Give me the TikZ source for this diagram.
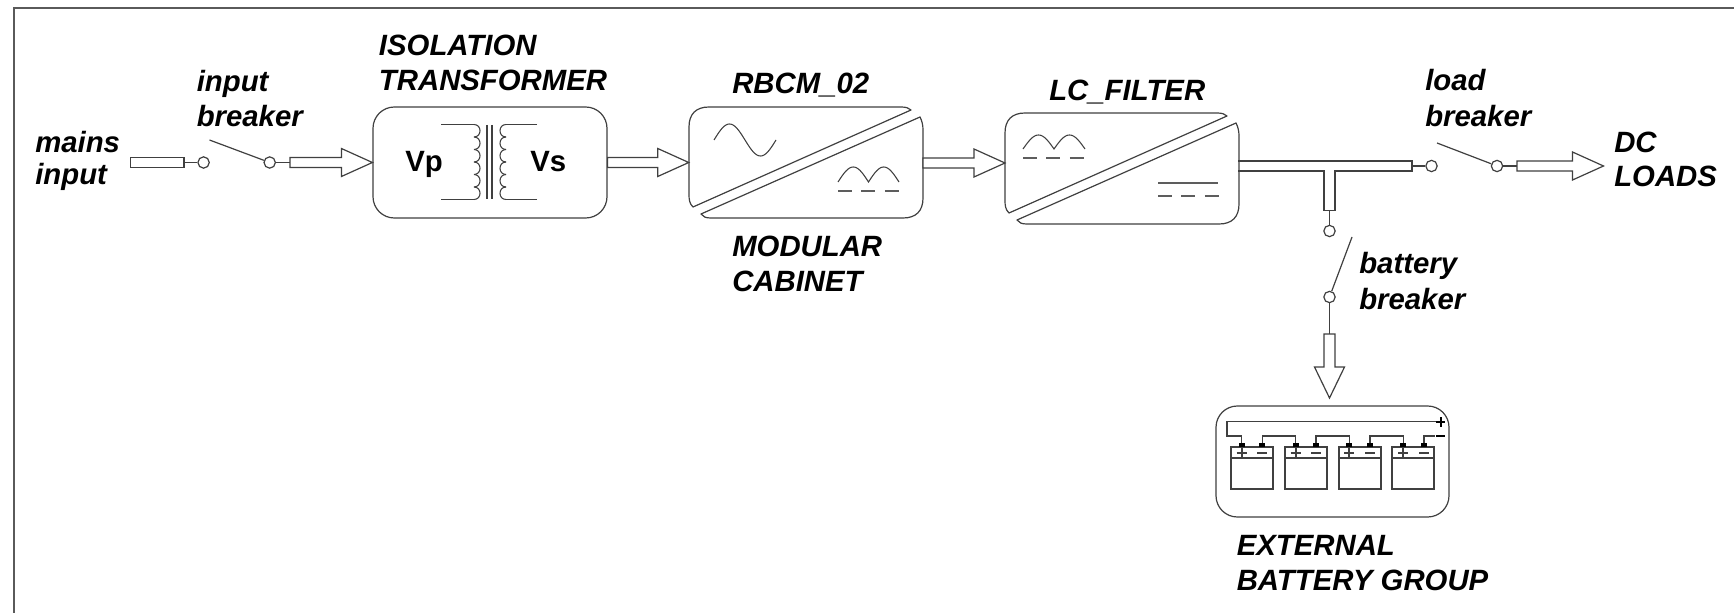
\documentclass[tikz,border=0pt]{standalone}
\usepackage{fontspec}
\setmainfont{Liberation Sans}
\usetikzlibrary{calc}
\definecolor{ink}{HTML}{404040}
\definecolor{framecol}{HTML}{5A5A5A}
\tikzset{
  x=0.75pt,y=-0.75pt,
  wire/.style={draw=ink,line width=0.9pt},
  thin wire/.style={draw=ink,line width=0.8pt},
  lbl/.style={font=\fontsize{22}{26}\selectfont\bfseries\itshape,anchor=base west,inner sep=0pt,text=black},
  vlbl/.style={font=\fontsize{22}{26}\selectfont\bfseries,anchor=base west,inner sep=0pt,text=black},
  contact/.style={circle,draw=ink,line width=0.9pt,fill=white,minimum size=8.5pt,inner sep=0pt},
  ghost/.style={rectangle,inner sep=0pt,minimum width=#1*0.75pt},
  roundbox/.style={rectangle,draw=ink,line width=0.9pt,rounded corners=16pt,inner sep=0pt},
  dashes/.style={draw=ink!85,line width=1.1pt,dash pattern=on 10.5pt off 7.1pt},
  pole/.style={fill=black,draw=none,minimum width=4.5pt,minimum height=3pt,inner sep=0pt,rectangle},
  cell/.style={rectangle,draw=ink,line width=0.9pt,minimum width=31.5pt,minimum height=31.5pt,inner sep=0pt},
  signmark/.style={draw=ink,line width=1.6pt},
}
\newcommand{\hollowright}[2]{\draw[wire,fill=white] ($(#1)+(0,-5)$) -- ($(#2)+(-31,-5)$) -- ($(#2)+(-31,-14)$) -- (#2) -- ($(#2)+(-31,14)$) -- ($(#2)+(-31,5)$) -- ($(#1)+(0,5)$) -- cycle;}
% converter outline: #1 = left x, #2 = top y (width 234, height 111)
\newcommand{\converter}[2]{%
  \draw[wire,line join=round] (#1+4,#2+100) .. controls (#1+0.5,#2+97) and (#1,#2+92) .. (#1,#2+88) -- (#1,#2+20)
     .. controls (#1,#2+7) and (#1+7,#2) .. (#1+20,#2) -- (#1+212,#2)
     .. controls (#1+217,#2) and (#1+220,#2+1) .. (#1+222,#2+3) -- cycle;
  \draw[wire,line join=round] (#1+231,#2+10) .. controls (#1+233,#2+14) and (#1+234,#2+18) .. (#1+234,#2+23) -- (#1+234,#2+91)
     .. controls (#1+234,#2+104) and (#1+227,#2+111) .. (#1+214,#2+111) -- (#1+22,#2+111)
     .. controls (#1+17,#2+111) and (#1+14,#2+110) .. (#1+12,#2+107) -- cycle;
}
\begin{document}
\begin{tikzpicture}
\useasboundingbox (0,0) rectangle (1734,613);
\fill[white] (0,0) rectangle (1734,613);
\draw[framecol,line width=1.5pt] (14,613) -- (14,8) -- (1734,8);

% --- main blocks
\node[roundbox,minimum width=175.5pt,minimum height=83.25pt] (xfmr) at (490,162.5) {};
\node[ghost=234,minimum height=83.25pt] (rbcm) at (806,162.5) {};
\node[ghost=234,minimum height=83.25pt] (lc) at (1122,168.5) {};
\converter{689}{107}
\converter{1005}{113}

% --- transformer
\node[vlbl] (vp) at (405,171.7) {Vp};
\node[vlbl] (vs) at (530,171.7) {Vs};
\draw[thin wire] (441,124.5) -- (474,124.5);
\draw[thin wire] (441,199.5) -- (474,199.5);
\draw[thin wire] (537,124.5) -- (506,124.5);
\draw[thin wire] (537,199.5) -- (506,199.5);
\foreach \i in {0,...,5}{
  \draw[thin wire] (474,124.5+12.5*\i) .. controls (482,124.5+12.5*\i) and (482,137+12.5*\i) .. (474,137+12.5*\i);
  \draw[thin wire] (506,124.5+12.5*\i) .. controls (498,124.5+12.5*\i) and (498,137+12.5*\i) .. (506,137+12.5*\i);
}
\draw[thin wire] (487,125) -- (487,199);
\draw[thin wire] (492,125) -- (492,199);

% --- converter symbols
\draw[thin wire] plot[domain=0:360,samples=50] ({714+62*(\x/360)},{140-16*sin(\x)});
\draw[thin wire] plot[domain=0:360,samples=61] ({838+61*(\x/360)},{182-15*abs(sin(\x))});
\draw[dashes] (838,191) -- (899,191);
\draw[thin wire] plot[domain=0:360,samples=61] ({1023+62*(\x/360)},{149-14*abs(sin(\x))});
\draw[dashes] (1023,158) -- (1084,158);
\draw[draw=ink!85,line width=1.1pt] (1158,183) -- (1218,183);
\draw[dashes] (1158,196) -- (1219,196);

% --- input side
\node[rectangle,draw=ink,line width=0.9pt,fill=white,minimum width=40pt,minimum height=7.5pt,inner sep=0pt] (mainsbar) at (157.25,162.5) {};
\node[contact] (in1) at (203.6,162.5) {};
\node[contact] (in2) at (269.7,162.5) {};
\coordinate (inblade) at (209.5,140);
\coordinate (inarrow) at (290,162.5);
\draw[wire] (mainsbar) -- (in1);
\draw[wire] (inblade) -- (in2);
\draw[wire] (in2) -- (inarrow);
\hollowright{inarrow}{xfmr.west}
\hollowright{xfmr.east}{rbcm.west}
\coordinate (rbcmout) at (923,163);
\coordinate (lcin) at (1005,163);
\hollowright{rbcmout}{lcin}

% --- output bus with tee
\coordinate (busa) at (1238,161);
\coordinate (busb) at (1412,161);
\coordinate (busc) at (1412,171);
\coordinate (teea) at (1335,171);
\coordinate (teeb) at (1335,210.5);
\coordinate (teec) at (1324,210.5);
\coordinate (teed) at (1324,171);
\coordinate (buse) at (1238,171);
\coordinate (busend) at (1412,166);
\coordinate (teeend) at (1329.5,210.5);
\draw[wire] (busa) -- (busb) -- (busc) -- (teea) -- (teeb) -- (teec) -- (teed) -- (buse);
\node[contact] (ld1) at (1431.5,166) {};
\node[contact] (ld2) at (1497,166) {};
\coordinate (ldblade) at (1437,143);
\coordinate (ldarrow) at (1517,166);
\coordinate (ldtip) at (1603.5,166);
\draw[wire] (busend) -- (ld1);
\draw[wire] (ldblade) -- (ld2);
\draw[wire] (ld2) -- (ldarrow);
\hollowright{ldarrow}{ldtip}

% --- battery branch
\node[contact] (bt1) at (1329.5,231) {};
\node[contact] (bt2) at (1329.5,297) {};
\coordinate (btblade) at (1352,237);
\coordinate (btarrow) at (1329.5,334);
\node[roundbox,minimum width=174.75pt,minimum height=83.25pt] (batt) at (1332.5,461.5) {};
\draw[wire] (teeend) -- (bt1);
\draw[wire] (btblade) -- (bt2);
\draw[wire] (bt2) -- (btarrow);
\draw[wire,fill=white] ($(btarrow)+(-5.5,0)$) -- ($(btarrow)+(-5.5,33)$) -- ($(btarrow)+(-15,33)$) -- (1329.5,398) -- ($(btarrow)+(15,33)$) -- ($(btarrow)+(5.5,33)$) -- ($(btarrow)+(5.5,0)$) -- cycle;

% --- battery group
\foreach \n/\cx/\p/\m in {a/1252/1241.7/1262.3, b/1306/1295.7/1316, c/1360/1349.3/1370, d/1413/1403.3/1424}{
  \node[cell] (cell\n) at (\cx,468) {};
  \draw[wire] (\cx-21,458) -- (\cx+21,458);
  \node[pole] (plus\n) at (\p,445) {};
  \node[pole] (minus\n) at (\m,445) {};
  \draw[signmark] (\p-5,452.7) -- (\p+5,452.7);
  \draw[signmark] (\p,447.5) -- (\p,457.5);
  \draw[signmark] (\m-5,452.7) -- (\m+5,452.7);
}
\coordinate (plusend) at (1440,421.7);
\coordinate (minusend) at (1435,436);
\draw[wire] (plusend) -- (1227,421.7) -- (1227,436) -- (1241.7,436) -- (plusa);
\draw[wire] (minusa) -- (1262.3,436) -- (1295.7,436) -- (plusb);
\draw[wire] (minusb) -- (1316,436) -- (1349.3,436) -- (plusc);
\draw[wire] (minusc) -- (1370,436) -- (1403.3,436) -- (plusd);
\draw[wire] (minusd) -- (1424,436) -- (minusend);
\draw[line width=1.8pt,black] (1436,436) -- (1445,436);
\draw[line width=1.8pt,black] (1436,421.7) -- (1445,421.7);
\draw[line width=1.5pt,black] (1440.5,417) -- (1440.5,426.5);

% --- labels
\node[lbl] (t1) at (35,152) {mains};
\node[lbl] (t2) at (35,185) {input};
\node[lbl] (t3) at (196.5,91.7) {input};
\node[lbl] (t4) at (196.5,127) {breaker};
\node[lbl] (t5) at (378.7,56) {ISOLATION};
\node[lbl] (t6) at (378.7,90.7) {TRANSFORMER};
\node[lbl] (t7) at (732,94) {RBCM\_02};
\node[lbl] (t8) at (732,256) {MODULAR};
\node[lbl] (t9) at (732,291.7) {CABINET};
\node[lbl] (t10) at (1049,101) {LC\_FILTER};
\node[lbl] (t11) at (1425,91) {load};
\node[lbl] (t12) at (1425,127) {breaker};
\node[lbl] (t13) at (1614,152.5) {DC};
\node[lbl] (t14) at (1614,186.7) {LOADS};
\node[lbl] (t15) at (1359,273) {battery};
\node[lbl] (t16) at (1359,309) {breaker};
\node[lbl] (t17) at (1236.5,555) {EXTERNAL};
\node[lbl] (t18) at (1236.5,590) {BATTERY GROUP};
\end{tikzpicture}
\end{document}
